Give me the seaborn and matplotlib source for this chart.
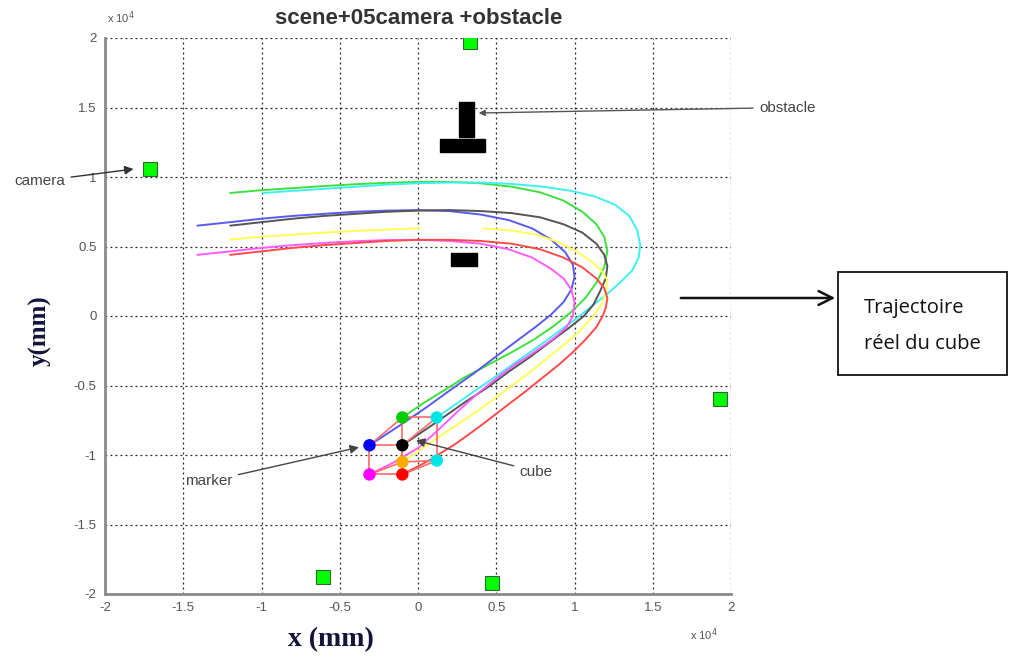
import numpy as np
import pandas as pd
import matplotlib
matplotlib.use("Agg")
import matplotlib.pyplot as plt
import seaborn as sns
from matplotlib.patches import Rectangle, FancyArrowPatch

# ---------------- data (units of 10^4 mm) ----------------
traj_names = ["green", "cyan", "blue", "black", "yellow", "magenta", "red"]
traj_colors = ["#3ee03e", "#3ff0f0", "#5a5aee", "#555555", "#ffff55", "#ff5cff", "#ff4a4a"]

green_x = [-1.20, -1.00, -0.80, -0.60, -0.40, -0.20, 0.00, 0.20, 0.40, 0.60, 0.78, 0.93, 1.05, 1.14, 1.19, 1.21,
           1.19, 1.14, 1.07, 0.98, 0.87, 0.74, 0.60, 0.45, 0.30, 0.16, 0.03, -0.10]
green_y = [0.885, 0.905, 0.92, 0.935, 0.948, 0.958, 0.965, 0.965, 0.955, 0.93, 0.89, 0.83, 0.75, 0.66, 0.57, 0.47,
           0.35, 0.24, 0.13, 0.03, -0.07, -0.17, -0.26, -0.35, -0.44, -0.54, -0.63, -0.73]

cyan_x = [-0.99, -0.80, -0.60, -0.40, -0.20, 0.00, 0.20, 0.40, 0.60, 0.80, 0.98, 1.13, 1.26, 1.35, 1.40, 1.42,
          1.41, 1.37, 1.30, 1.21, 1.11, 1.01, 0.90, 0.78, 0.64, 0.49, 0.31, 0.12]
cyan_y = [0.885, 0.90, 0.915, 0.93, 0.945, 0.955, 0.96, 0.96, 0.95, 0.93, 0.90, 0.86, 0.80, 0.72, 0.62, 0.51,
          0.42, 0.33, 0.25, 0.16, 0.07, -0.02, -0.11, -0.21, -0.32, -0.44, -0.58, -0.73]

blue_x = [-1.41, -1.20, -1.00, -0.80, -0.60, -0.40, -0.20, 0.00, 0.20, 0.40, 0.58, 0.73, 0.85, 0.94, 0.99, 1.00,
          0.98, 0.93, 0.85, 0.75, 0.63, 0.50, 0.36, 0.21, 0.05, -0.12, -0.31]
blue_y = [0.65, 0.675, 0.70, 0.72, 0.735, 0.75, 0.758, 0.762, 0.755, 0.73, 0.69, 0.63, 0.55, 0.46, 0.37, 0.28,
          0.19, 0.10, 0.01, -0.08, -0.18, -0.29, -0.41, -0.53, -0.66, -0.79, -0.93]

black_x = [-1.20, -1.00, -0.80, -0.60, -0.40, -0.20, 0.00, 0.20, 0.40, 0.60, 0.78, 0.93, 1.05, 1.14, 1.19, 1.21,
           1.20, 1.16, 1.12, 1.06, 0.96, 0.84, 0.71, 0.58, 0.45, 0.30, 0.11, -0.10]
black_y = [0.65, 0.675, 0.70, 0.72, 0.735, 0.75, 0.758, 0.762, 0.755, 0.74, 0.71, 0.66, 0.60, 0.52, 0.44, 0.36,
           0.27, 0.17, 0.08, 0.00, -0.09, -0.19, -0.30, -0.40, -0.51, -0.62, -0.77, -0.93]

yellow_x = [-1.20, -1.00, -0.80, -0.60, -0.40, -0.20, 0.01, np.nan,
            0.42, 0.60, 0.76, 0.90, 1.02, 1.11, 1.17, 1.21, 1.20, 1.17, 1.12, 1.04, 0.94, 0.83, 0.72, 0.60,
            0.47, 0.32, 0.16, 0.03, -0.10]
yellow_y = [0.55, 0.57, 0.585, 0.60, 0.612, 0.622, 0.63, np.nan,
            0.63, 0.615, 0.585, 0.53, 0.46, 0.39, 0.33, 0.26, 0.17, 0.08, 0.00, -0.10, -0.20, -0.30, -0.40, -0.50,
            -0.61, -0.73, -0.85, -0.95, -1.05]

magenta_x = [-1.41, -1.20, -1.00, -0.80, -0.60, -0.40, -0.20, 0.00, 0.20, 0.40, 0.58, 0.73, 0.85, 0.93, 0.98,
             1.00, 0.99, 0.95, 0.89, 0.82, 0.73, 0.62, 0.50, 0.38, 0.25, 0.12, 0.00, -0.15, -0.31]
magenta_y = [0.44, 0.465, 0.49, 0.51, 0.525, 0.538, 0.546, 0.548, 0.54, 0.52, 0.48, 0.42, 0.34, 0.27, 0.19,
             0.10, 0.00, -0.08, -0.14, -0.20, -0.27, -0.35, -0.45, -0.56, -0.69, -0.83, -0.95, -1.05, -1.14]

red_x = [-1.20, -1.00, -0.80, -0.60, -0.40, -0.20, 0.00, 0.20, 0.40, 0.60, 0.78, 0.93, 1.05, 1.14, 1.19, 1.21,
         1.20, 1.18, 1.14, 1.07, 0.99, 0.90, 0.80, 0.69, 0.55, 0.40, 0.24, 0.07, -0.10]
red_y = [0.44, 0.465, 0.49, 0.51, 0.525, 0.54, 0.548, 0.548, 0.54, 0.52, 0.48, 0.42, 0.35, 0.27, 0.20, 0.13,
         0.06, 0.00, -0.08, -0.17, -0.26, -0.35, -0.44, -0.54, -0.66, -0.79, -0.92, -1.04, -1.14]

# cube markers (8 corners)
cube_x = [-0.31, -0.10, -0.10, -0.31, -0.10, 0.12, 0.12, -0.10]
cube_y = [-0.93, -0.93, -1.14, -1.14, -0.73, -0.73, -1.04, -1.05]
cube_colors = ["#0000ff", "#000000", "#ff0000", "#ff00ff", "#00cc00", "#00e5e5", "#00e5e5", "#ffaa00"]
cube_edges = [(0, 1), (1, 2), (2, 3), (3, 0), (4, 5), (5, 6), (6, 7), (7, 4), (0, 4), (1, 5), (2, 6), (3, 7)]

# cameras
cam_x = [0.33, -1.71, 1.93, -0.61, 0.47]
cam_y = [1.97, 1.06, -0.60, -1.88, -1.92]

# obstacles: x0, x1, y0, y1
obs_x0 = [0.26, 0.14, 0.21]
obs_x1 = [0.36, 0.43, 0.38]
obs_y0 = [1.29, 1.18, 0.36]
obs_y1 = [1.54, 1.27, 0.45]

ticks = [-2, -1.5, -1, -0.5, 0, 0.5, 1, 1.5, 2]
tick_labels = ["-2", "-1.5", "-1", "-0.5", "0", "0.5", "1", "1.5", "2"]

# ---------------- figure ----------------
sns.set_style("white")
plt.rcParams["font.family"] = ["Liberation Sans", "DejaVu Sans"]

fig = plt.figure(figsize=(10.19, 6.62), dpi=100)
ax = fig.add_axes([105 / 1019, 1 - 594 / 662, 626 / 1019, 556 / 662])

ax.set_xlim(-2, 2)
ax.set_ylim(-2, 2)
ax.set_xticks(ticks)
ax.set_yticks(ticks)
ax.set_xticklabels(tick_labels)
ax.set_yticklabels(tick_labels)
ax.grid(True, linestyle=(0, (1.5, 2.5)), color="#222222", linewidth=0.9)
ax.set_axisbelow(True)
for s in ["top", "right"]:
    ax.spines[s].set_visible(False)
for s in ["left", "bottom"]:
    ax.spines[s].set_color("#8a8a8a")
    ax.spines[s].set_linewidth(2)
ax.tick_params(direction="in", length=4, width=1, colors="#8a8a8a", labelcolor="#555555", labelsize=9.5, pad=6)

# trajectories
series = {
    "green": (green_x, green_y), "cyan": (cyan_x, cyan_y), "blue": (blue_x, blue_y),
    "black": (black_x, black_y), "yellow": (yellow_x, yellow_y),
    "magenta": (magenta_x, magenta_y), "red": (red_x, red_y),
}
for name, col in zip(traj_names, traj_colors):
    xs, ys = series[name]
    seg = np.cumsum(np.isnan(np.array(xs, dtype=float)))
    df = pd.DataFrame({"x": xs, "y": ys, "seg": seg}).dropna()
    sns.lineplot(data=df, x="x", y="y", units="seg", estimator=None, sort=False,
                 color=col, linewidth=1.4, ax=ax, legend=False)

# cube wireframe
for a, b in cube_edges:
    edf = pd.DataFrame({"x": [cube_x[a], cube_x[b]], "y": [cube_y[a], cube_y[b]]})
    sns.lineplot(data=edf, x="x", y="y", sort=False, estimator=None, color="#ff6a6a",
                 linewidth=1.2, ax=ax, legend=False)
cdf = pd.DataFrame({"x": cube_x, "y": cube_y, "c": [str(i) for i in range(8)]})
sns.scatterplot(data=cdf, x="x", y="y", hue="c", palette=cube_colors, s=80,
                edgecolor="none", ax=ax, legend=False, zorder=5)

# obstacles
for x0, x1, y0, y1 in zip(obs_x0, obs_x1, obs_y0, obs_y1):
    ax.add_patch(Rectangle((x0, y0), x1 - x0, y1 - y0, facecolor="black", edgecolor="black", zorder=4))

# cameras
camdf = pd.DataFrame({"x": cam_x, "y": cam_y})
sns.scatterplot(data=camdf, x="x", y="y", marker="s", s=95, color="#00ff00",
                edgecolor="#336633", linewidth=0.8, ax=ax, legend=False, zorder=6)

ax.set_xlabel("")
ax.set_ylabel("")

# annotations
ann_kw = dict(fontsize=11, color="#444444", annotation_clip=False)
ax.annotate("camera", xy=(-1.80, 1.06), xytext=(-2.58, 0.97), va="center", ha="left",
            arrowprops=dict(arrowstyle="-|>", color="#333333", lw=1, mutation_scale=13), **ann_kw)
ax.annotate("obstacle", xy=(0.37, 1.46), xytext=(2.18, 1.50), va="center", ha="left",
            arrowprops=dict(arrowstyle="-|>", color="#555555", lw=1, mutation_scale=9), **ann_kw)
ax.annotate("marker", xy=(-0.36, -0.94), xytext=(-1.49, -1.19), va="center", ha="left",
            arrowprops=dict(arrowstyle="-|>", color="#444444", lw=1, mutation_scale=13), **ann_kw)
ax.annotate("cube", xy=(-0.03, -0.89), xytext=(0.65, -1.12), va="center", ha="left",
            arrowprops=dict(arrowstyle="-|>", color="#444444", lw=1, mutation_scale=13), **ann_kw)

# title and axis labels
fig.text(419 / 1019, 1 - 18 / 662, "scene+05camera +obstacle", ha="center", va="center",
         fontsize=16, fontweight="bold", color="#333333")
fig.text(107 / 1019, 1 - 18 / 662, "x 10$^4$", ha="left", va="center", fontsize=8, color="#555555")
fig.text(690 / 1019, 1 - 635 / 662, "x 10$^4$", ha="left", va="center", fontsize=8, color="#555555")
fig.text(331 / 1019, 1 - 640 / 662, "x (mm)", ha="center", va="center", fontsize=20,
         fontweight="bold", family=["Liberation Serif"], color="#14143a")
fig.text(40 / 1019, 1 - 331 / 662, "y(mm)", ha="center", va="center", fontsize=18, rotation=90,
         fontweight="bold", family=["Liberation Serif"], color="#14143a")

# big arrow and box
arrow = FancyArrowPatch((678 / 1019, 1 - 298 / 662), (838 / 1019, 1 - 298 / 662),
                        transform=fig.transFigure, arrowstyle="->", mutation_scale=25,
                        lw=1.8, color="#111111")
fig.patches.append(arrow)
box = Rectangle((838 / 1019, 1 - 375 / 662), 169 / 1019, 103 / 662, transform=fig.transFigure,
                facecolor="white", edgecolor="#111111", lw=1.3)
fig.patches.append(box)
fig.text(864 / 1019, 1 - 308 / 662, "Trajectoire", ha="left", va="center", fontsize=14.5,
         family=["Open Sans"], color="#111111")
fig.text(864 / 1019, 1 - 344 / 662, "réel du cube", ha="left", va="center", fontsize=14.5,
         family=["Open Sans"], color="#111111")

fig.savefig("out.png", dpi=100)
